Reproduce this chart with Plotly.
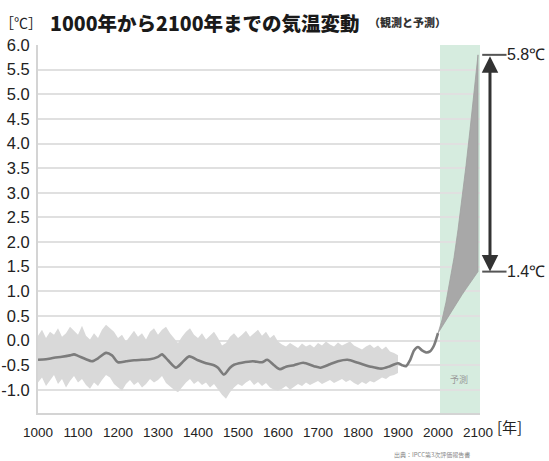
import plotly.graph_objects as go

# ---------------- data ----------------
band_years = list(range(1000, 1901, 10))
band_upper = [
    0.10, 0.22, 0.05, 0.18, 0.12, 0.25, 0.08, 0.15, 0.28, 0.20,
    0.12, 0.30, 0.10, 0.02, 0.15, 0.05, 0.22, 0.32, 0.25, 0.18,
    0.05, 0.12, -0.02, 0.10, 0.20, 0.08, 0.15, 0.02, 0.18, 0.25,
    0.12, 0.22, 0.28, 0.15, 0.05, -0.05, 0.08, 0.18, 0.25, 0.12,
    0.05, 0.15, 0.02, 0.10, 0.18, 0.05, -0.10, -0.05, 0.08, 0.15,
    0.05, 0.12, 0.20, 0.08, 0.15, 0.22, 0.10, 0.18, 0.05, 0.12,
    -0.02, -0.08, -0.12, -0.05, -0.10, -0.15, -0.06, -0.12, -0.08, -0.14,
    -0.05, -0.10, -0.02, -0.08, -0.12, -0.04, -0.10, -0.06, -0.02, -0.10,
    -0.14, -0.18, -0.12, -0.08, -0.15, -0.10, -0.18, -0.12, -0.22, -0.25,
    -0.30,
]
band_lower = [
    -0.85, -0.75, -0.92, -0.80, -0.70, -0.88, -0.78, -0.95, -0.82, -0.72,
    -0.85, -0.78, -0.90, -0.98, -0.85, -0.92, -0.80, -0.70, -0.75, -0.88,
    -0.95, -1.02, -0.88, -0.80, -0.90, -0.84, -0.95, -0.88, -0.78, -0.85,
    -0.80, -0.72, -0.86, -0.92, -1.00, -1.05, -0.95, -0.85, -0.78, -0.88,
    -0.82, -0.90, -0.85, -0.95, -0.88, -0.98, -1.10, -1.18, -1.05, -0.95,
    -0.88, -0.92, -0.85, -0.80, -0.90, -0.84, -0.92, -0.86, -0.95, -1.00,
    -1.02, -0.98, -0.92, -1.00, -0.94, -0.88, -0.92, -0.85, -0.90, -0.86,
    -0.82, -0.88, -0.84, -0.80, -0.86, -0.82, -0.78, -0.84, -0.80, -0.86,
    -0.90, -0.84, -0.88, -0.82, -0.85, -0.80, -0.75, -0.78, -0.72, -0.70,
    -0.66,
]

line_years = [1000, 1020, 1040, 1060, 1080, 1090, 1100, 1120, 1135, 1150,
              1170, 1185, 1200, 1220, 1240, 1260, 1280, 1300, 1310, 1325,
              1345, 1360, 1378, 1400, 1420, 1440, 1450, 1465, 1480, 1490,
              1510, 1537, 1560, 1573, 1590, 1605, 1620, 1640, 1663, 1690,
              1706, 1730, 1750, 1774, 1800, 1832, 1858, 1880, 1900, 1910,
              1920, 1930, 1940, 1950, 1960, 1970, 1980, 1990, 2000]
line_vals = [-0.39, -0.38, -0.35, -0.33, -0.30, -0.28, -0.31, -0.38, -0.42, -0.36,
             -0.25, -0.30, -0.44, -0.42, -0.40, -0.39, -0.38, -0.33, -0.28, -0.40,
             -0.55, -0.45, -0.32, -0.40, -0.46, -0.50, -0.55, -0.69, -0.55, -0.49,
             -0.45, -0.42, -0.44, -0.39, -0.50, -0.58, -0.53, -0.50, -0.45, -0.52,
             -0.55, -0.48, -0.42, -0.39, -0.45, -0.53, -0.57, -0.52, -0.46, -0.50,
             -0.52, -0.40, -0.20, -0.13, -0.20, -0.24, -0.22, -0.10, 0.15]

fan_years = [2000, 2010, 2020, 2030, 2040, 2050, 2060, 2070, 2080, 2090, 2100]
fan_upper = [0.15, 0.42, 0.78, 1.20, 1.68, 2.25, 2.88, 3.55, 4.28, 5.02, 5.80]
fan_lower = [0.15, 0.28, 0.41, 0.54, 0.67, 0.80, 0.93, 1.05, 1.17, 1.29, 1.40]

forecast_span = [2005, 2105]

x_ticks = [1000, 1100, 1200, 1300, 1400, 1500, 1600, 1700, 1800, 1900, 2000, 2100]
y_ticks = [-1.0, -0.5, 0.0, 0.5, 1.0, 1.5, 2.0, 2.5, 3.0, 3.5, 4.0, 4.5, 5.0, 5.5, 6.0]
y_labels = ["-1.0", "-0.5", "0.0", "0.5", "1.0", "1.5", "2.0", "2.5", "3.0",
            "3.5", "4.0", "4.5", "5.0", "5.5", "6.0"]

title_text = "1000年から2100年までの気温変動"
subtitle_text = "（観測と予測）"
source_text = "出典：IPCC第3次評価報告書"

# ---------------- figure ----------------
fig = go.Figure()

fig.add_trace(go.Scatter(
    x=band_years + band_years[::-1],
    y=band_upper + band_lower[::-1],
    fill="toself", fillcolor="#d9d9d9",
    line=dict(width=0), mode="lines", hoverinfo="skip", showlegend=False,
))

fig.add_trace(go.Scatter(
    x=fan_years + fan_years[::-1],
    y=fan_upper + fan_lower[::-1],
    fill="toself", fillcolor="#a8a8a8",
    line=dict(width=0.8, color="#a0a0a0"), mode="lines",
    hoverinfo="skip", showlegend=False,
))

fig.add_trace(go.Scatter(
    x=line_years, y=line_vals, mode="lines",
    line=dict(color="#7c7c7c", width=2.6, shape="spline", smoothing=0.7),
    showlegend=False,
))

FONT = "Liberation Sans, Arial, sans-serif"
NARROW = "Liberation Sans Narrow, Arial Narrow, Liberation Sans, sans-serif"
CJK = "Noto Sans CJK JP, sans-serif"

fig.update_layout(
    width=549, height=461,
    margin=dict(l=38, r=69, t=45, b=48, autoexpand=False),
    paper_bgcolor="white", plot_bgcolor="white",
    showlegend=False,
    xaxis=dict(
        range=[1000, 2105], tickvals=x_ticks, ticktext=[str(v) for v in x_ticks],
        showgrid=False, zeroline=False, automargin=False,
        showline=True, linecolor="#d4d4d4", linewidth=2,
        ticks="", ticklabelstandoff=6,
        tickfont=dict(family=NARROW, size=13.5, color="#222"),
    ),
    yaxis=dict(
        range=[-1.47, 6.0], tickvals=y_ticks, ticktext=y_labels,
        showgrid=True, gridcolor="#e0e0e0", gridwidth=1.6, automargin=False,
        zeroline=False, showline=True, linecolor="#d4d4d4", linewidth=2,
        ticks="", ticklabelstandoff=3,
        tickfont=dict(family=FONT, size=16.5, color="#222"),
    ),
    shapes=[
        dict(type="rect", xref="x", yref="paper",
             x0=forecast_span[0], x1=forecast_span[1], y0=0, y1=1,
             fillcolor="rgba(200,230,212,0.75)", line=dict(width=0), layer="below"),
        dict(type="line", xref="paper", yref="y", x0=1.005, x1=1.06,
             y0=fan_upper[-1], y1=fan_upper[-1], line=dict(color="#555", width=2)),
        dict(type="line", xref="paper", yref="y", x0=1.005, x1=1.06,
             y0=fan_lower[-1], y1=fan_lower[-1], line=dict(color="#555", width=2)),
    ],
)

ann = []
ann.append(dict(
    xref="paper", yref="y", x=1.0226, y=fan_lower[-1],
    axref="pixel", ayref="y", ax=0, ay=fan_upper[-1],
    text="", showarrow=True, arrowside="end+start", arrowhead=2,
    arrowsize=1.1, arrowwidth=3, arrowcolor="#333", standoff=0, startstandoff=0,
))
ann.append(dict(xref="paper", yref="y", x=1.057, y=fan_upper[-1], xanchor="left",
                yanchor="middle", text=f"{fan_upper[-1]:.1f}℃", showarrow=False,
                font=dict(family=FONT, size=16, color="#222")))
ann.append(dict(xref="paper", yref="y", x=1.057, y=fan_lower[-1], xanchor="left",
                yanchor="middle", text=f"{fan_lower[-1]:.1f}℃", showarrow=False,
                font=dict(family=FONT, size=16, color="#222")))
ann.append(dict(xref="paper", yref="paper", x=0.022, y=1.0625, xanchor="left",
                yanchor="middle", text=title_text, showarrow=False,
                font=dict(family=CJK, size=19.5, color="#1a1a1a", weight=900)))
ann.append(dict(xref="paper", yref="paper", x=0.835, y=1.0625, xanchor="center",
                yanchor="middle", text=subtitle_text, showarrow=False,
                font=dict(family=CJK, size=11, color="#333", weight=900)))
ann.append(dict(xref="paper", yref="paper", x=-0.0385, y=1.0625, xanchor="center",
                yanchor="middle", text="［℃］", showarrow=False,
                font=dict(family=CJK, size=14, color="#222")))
ann.append(dict(xref="paper", yref="paper", x=1.067, y=-0.038, xanchor="center",
                yanchor="middle", text="[年]", showarrow=False,
                font=dict(family=CJK, size=15, color="#222")))
ann.append(dict(xref="x", yref="y", x=2052, y=-0.80, xanchor="center",
                yanchor="middle", text="予測", showarrow=False,
                font=dict(family=CJK, size=9, color="#999")))
ann.append(dict(xref="paper", yref="paper", x=0.891, y=-0.114, xanchor="center",
                yanchor="middle", text=source_text, showarrow=False,
                font=dict(family=CJK, size=6, color="#888")))
fig.update_layout(annotations=ann)

fig.write_html("out.html", config={"displayModeBar": False},
               post_script="document.body.style.margin='0px';")
